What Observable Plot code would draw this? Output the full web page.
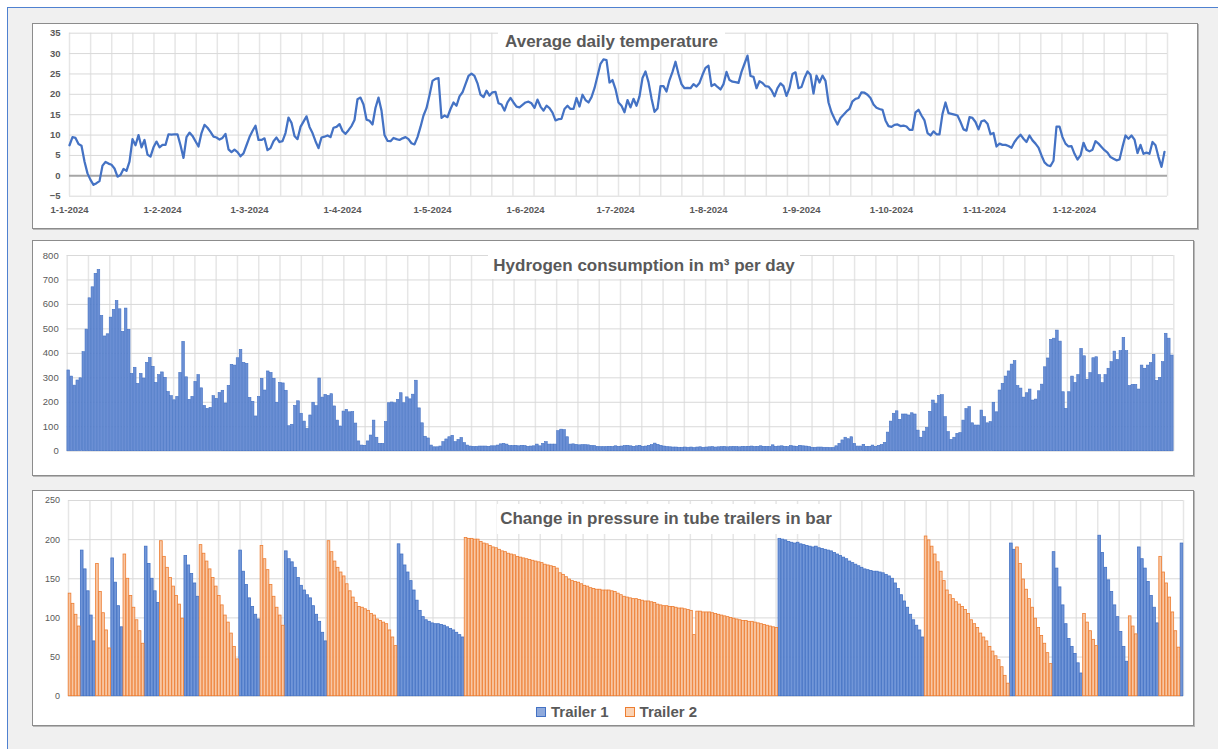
<!DOCTYPE html>
<html>
<head>
<meta charset="utf-8">
<script src="https://cdn.jsdelivr.net/npm/d3@7"></script>
<script src="https://cdn.jsdelivr.net/npm/@observablehq/plot@0.6"></script>
<style>
html,body{margin:0;padding:0;background:#fff;width:1218px;height:749px;overflow:hidden;font-family:"Liberation Sans",Arial,sans-serif;}
#frame{position:absolute;left:7px;top:7px;width:1240px;height:770px;border-left:1.5px solid #4f81d0;border-top:1.5px solid #4f81d0;background:#f0f0f0;}
.panel{position:absolute;background:#fff;border:1px solid #8c8c8c;box-shadow:1px 1px 0 #b8b8b8;box-sizing:border-box;}
.chart{position:absolute;}
.title{position:absolute;background:#fff;color:#595959;font-weight:bold;font-size:17px;display:flex;align-items:center;justify-content:center;white-space:nowrap;}
.legend{position:absolute;display:flex;align-items:center;color:#595959;font-weight:bold;font-size:15px;white-space:nowrap;}
.sw{display:inline-block;width:8px;height:8px;margin-right:5px;}
</style>
</head>
<body>
<div id="frame"></div>
<div class="panel" style="left:32px;top:23px;width:1166px;height:206px;"></div>
<div class="panel" style="left:32px;top:240px;width:1162px;height:236px;"></div>
<div class="panel" style="left:32px;top:490px;width:1162px;height:236px;"></div>
<div id="c1" class="chart" style="left:33px;top:24px;"></div>
<div id="c2" class="chart" style="left:33px;top:241px;"></div>
<div id="c3" class="chart" style="left:33px;top:491px;"></div>
<div class="title" style="left:498px;top:30px;width:227px;height:23px;">Average daily temperature</div>
<div class="title" style="left:488px;top:252px;width:312px;height:27px;">Hydrogen consumption in m³ per day</div>
<div class="title" style="left:497px;top:504px;width:338px;height:30px;">Change in pressure in tube trailers in bar</div>
<div class="legend" style="left:536px;top:703px;">
  <span class="sw" style="background:#8faadc;border:1px solid #4472c4;"></span><span>Trailer 1</span>
  <span class="sw" style="background:#fbd3b4;border:1px solid #ed7d31;margin-left:16px;"></span><span>Trailer 2</span>
</div>
<script>
// ---------- DATA ----------
// Average daily temperature (°C), one value per day from 1-1-2024
const temperature = [
7.5,9.5,9.3,7.8,7.4,3.5,0.6,-1.0,-2.2,-1.8,
-1.3,2.5,3.4,3.0,2.7,1.8,-0.2,0.2,1.7,1.2,
3.5,9.0,7.5,10.0,7.0,8.8,5.2,4.7,7.0,8.4,
7.0,7.6,7.6,10.2,10.1,10.2,10.2,7.5,4.4,9.5,
10.6,9.8,8.5,7.2,10.5,12.5,11.8,10.8,9.6,9.4,
8.9,9.3,10.3,6.5,5.8,6.4,5.8,4.8,5.5,7.5,
9.5,11.0,12.3,8.8,8.8,9.2,6.3,6.8,8.5,9.4,
8.3,8.5,10.5,14.3,13.0,9.8,9.0,12.0,13.3,14.6,
12.0,10.5,8.5,6.8,9.4,9.6,9.9,9.5,11.8,12.0,
12.7,11.0,10.3,11.2,12.2,13.7,18.8,19.2,17.5,13.8,
13.5,12.6,16.7,19.2,16.0,10.0,8.6,8.5,9.3,9.0,
8.8,9.2,9.5,9.0,8.0,7.7,9.5,12.0,14.8,16.6,
19.8,23.3,23.8,24.0,14.2,14.8,14.4,16.4,18.0,17.2,
19.5,20.5,22.5,24.5,25.1,24.5,22.7,19.9,19.3,20.9,
19.7,20.5,20.6,17.8,17.5,16.0,18.0,19.1,18.0,17.0,
16.8,17.4,18.0,18.2,17.8,16.7,18.7,17.0,16.0,17.2,
16.6,15.5,13.6,13.9,14.0,16.4,17.2,16.4,16.4,19.1,
17.0,19.9,18.6,18.0,19.3,21.5,24.5,27.5,28.6,28.4,
22.9,23.5,21.3,18.0,17.2,15.6,18.6,16.8,18.9,17.2,
19.5,24.0,25.6,23.0,19.0,15.7,16.5,22.0,22.0,20.7,
23.5,25.5,28.0,25.0,22.5,21.5,21.6,21.5,22.5,21.9,
22.8,24.8,26.5,27.0,22.0,22.5,21.8,21.2,22.5,25.5,
23.5,23.1,23.0,22.8,25.5,27.5,29.5,24.5,24.3,21.5,
23.2,22.8,22.0,21.9,21.0,19.5,21.5,22.7,22.0,19.6,
21.5,25.0,25.4,21.5,21.8,24.0,25.6,24.8,20.2,24.6,
22.9,24.6,23.3,18.0,15.6,14.0,12.6,14.2,15.0,15.8,
16.4,18.3,18.9,19.1,20.5,20.4,19.9,19.1,17.5,16.7,
16.4,16.2,13.6,12.2,12.0,12.5,12.6,12.2,12.3,12.1,
11.3,11.3,15.6,16.2,14.8,13.6,10.5,9.9,10.9,10.2,
10.2,15.2,18.0,15.4,15.2,15.0,14.8,13.2,11.4,11.1,
14.4,14.2,13.2,11.4,13.4,13.6,12.8,10.2,10.5,7.2,
7.9,7.6,7.6,7.3,6.9,8.3,9.3,10.1,9.1,8.3,
9.9,8.7,7.9,6.9,5.0,3.3,2.6,2.4,3.7,12.1,
12.1,9.5,7.9,7.2,7.3,5.4,4.0,5.0,8.1,6.4,
6.0,6.4,8.5,7.9,7.1,6.3,5.7,4.6,4.2,3.8,
4.0,7.1,9.9,9.1,9.9,8.9,5.6,7.6,5.4,5.7,
5.4,8.3,7.5,4.6,2.2,5.9
];

// Hydrogen consumption (m³ per day), one value per day
const consumption = [
330,305,268,289,298,405,497,625,670,725,
741,553,469,478,546,578,614,580,488,583,
496,316,341,275,316,297,361,381,345,279,
311,322,300,242,225,208,222,320,447,302,
210,222,283,311,257,185,173,177,225,214,
238,247,195,267,353,350,380,414,361,357,
218,202,142,222,296,248,326,320,296,198,
279,277,247,102,108,185,204,153,121,91,
146,198,184,297,219,230,226,233,183,125,
101,162,169,159,160,113,40,23,22,40,
64,125,55,30,30,119,196,199,196,210,
237,196,220,212,231,288,175,114,59,52,
23,16,16,19,37,48,57,63,37,46,
54,33,23,19,18,18,19,19,19,18,
20,20,23,28,30,27,21,21,22,20,
22,21,18,19,20,27,20,30,37,27,
27,27,82,88,86,57,27,28,26,24,
25,25,24,22,21,18,17,17,17,18,
17,20,18,19,21,22,20,18,20,22,
18,19,22,25,31,26,22,19,17,16,
15,15,14,14,15,14,15,13,15,16,
14,15,16,17,15,16,17,18,16,17,
18,17,16,18,17,18,19,17,18,20,
18,18,17,24,18,19,20,18,17,21,
19,18,22,20,19,17,
14,14,15,15,14,14,13,13,20,30,
44,55,49,57,30,19,19,26,18,18,
23,18,22,25,34,76,121,153,163,128,
150,150,146,155,150,84,55,80,95,161,
207,193,226,229,139,78,46,55,71,74,
125,172,180,114,105,105,166,139,114,119,
198,159,248,275,305,326,354,368,266,256,
219,237,252,207,211,245,272,343,379,455,
460,493,448,241,173,241,305,279,311,418,
388,292,319,380,384,311,278,311,337,364,
407,373,409,463,409,266,271,271,252,350,
337,350,360,394,287,300,364,480,460,391
];

// Tube trailer pressure (bar): consecutive runs of days on one trailer
const trailerNames = ["Trailer 1", "Trailer 2"];
const runTrailer = [2,1,2,1,2,1,2,1,2,1,2,1,2,1,2,1,2,1,2,1,2,1,2,1,2,1];
const runValues = [
[131,118,104,89],
[186,162,134,103,70],
[169,133,106,84,61],
[176,145,115,88],
[181,150,128,113,97,83,67],
[191,169,150,134,119],
[198,178,164,151,140,128,117,99],
[179,167,156,144,127],
[193,182,172,162,151,140,128,116,103,94,80,63,47],
[186,159,142,125,114,104,98],
[192,175,161,142,127,113,103,90],
[185,175,171,164,151,141,135,129,125,115,104,95,81,70],
[198,184,172,164,158,153,143,134,126,119,114,113,111,109,105,103,98,96,94,92,84,75,64],
[194,181,167,158,147,135,122,109,101,97,95,93,92,92,91,90,88,86,84,81,78,75],
[202,201,201,200,200,197,195,194,192,190,189,187,185,184,182,181,180,178,177,176,175,
 174,173,172,171,170,168,167,166,165,163,157,155,152,149,147,146,145,143,141,140,
 138,137,136,136,135,135,135,134,133,131,129,127,126,125,124,124,123,122,121,121,
 120,119,117,116,115,115,114,114,113,112,112,111,110,109,78,108,108,107,107,107,
 106,105,104,103,102,101,100,99,98,97,96,96,95,95,94,93,92,91,90,89,88,87],
[201,200,199,197,196,195,196,194,193,192,191,190,191,189,188,187,186,185,183,181,179,
 177,175,172,170,168,166,164,162,161,160,159,159,158,157,155,153,150,144,137,129,121,
 113,104,97,90,84,75],
[204,199,191,181,171,159,147,135,129,124,120,117,114,110,105,97,92,87,80,75,70,63,57,51,46,37,26,16],
[195,187],
[190,169,149,136,124,113,99,87,77,67,55,41],
[184,163,139,116,92,73,63,54,42,29],
[105,94,83,72,64],
[205,183,164,148,133,116,101,82,63,44],
[102,89,79],
[190,175,163,146,128,113,93],
[178,158,144,126,107,83,62],
[195]
];

// Axis tick values
const tempTicks = [-5,0,5,10,15,20,25,30,35];
const consTicks = [0,100,200,300,400,500,600,700,800];
const presTicks = [0,50,100,150,200,250];

// ---------- BUILD ----------
const start = Date.UTC(2024,0,1);
const DAY = 864e5;
const nDays = 366;
const tempRows = temperature.map((t,i) => ({date: new Date(start + i*DAY), t}));
const consRows = consumption.map((v,i) => ({day: i, v}));
const presRows = [];
{ let d = 0;
  runValues.forEach((vals, r) => vals.forEach(v => presRows.push({day: d++, trailer: trailerNames[runTrailer[r]-1], v}))); }

const monthStarts = d3.range(12).map(m => new Date(Date.UTC(2024,m,1)));
const gridFrac = d3.range(53).map(k => k*nDays/52);
const gridDates = gridFrac.map(f => new Date(start + f*DAY));
const fmt = d => `${d.getUTCDate()}-${d.getUTCMonth()+1}-${d.getUTCFullYear()}`;
const font = "'Liberation Sans', Arial, sans-serif";
const vGrid = "#e6e6e6", hGrid = "#d9d9d9";

// Panel 1: temperature
const p1 = Plot.plot({
  width: 1163, height: 203,
  marginLeft: 36, marginRight: 29, marginTop: 8.7, marginBottom: 31.3,
  style: {fontFamily: font, fontSize: "9.5px", color: "#595959", background: "transparent", overflow: "visible"},
  x: {type: "utc", domain: [new Date(start), new Date(start + nDays*DAY)]},
  y: {domain: [-5, 35]},
  marks: [
    Plot.ruleX(gridDates, {stroke: vGrid, strokeWidth: 1.5}),
    Plot.ruleY(tempTicks.filter(v => v !== 0), {stroke: hGrid, strokeWidth: 1}),
    Plot.ruleY([0], {stroke: "#a6a6a6", strokeWidth: 2}),
    Plot.lineY(tempRows, {x: "date", y: "t", stroke: "#4472c4", strokeWidth: 2.25, strokeLinejoin: "round"}),
    Plot.axisX({ticks: monthStarts, tickFormat: fmt, tickSize: 0, tickPadding: 10, fontWeight: "bold", label: null}),
    Plot.axisY({ticks: tempTicks, tickSize: 0, tickPadding: 9, fontWeight: "bold", label: null})
  ]
});
document.getElementById("c1").append(p1);

// Panel 2: hydrogen consumption
const p2 = Plot.plot({
  width: 1160, height: 234,
  marginLeft: 33.7, marginRight: 19.7, marginTop: 14, marginBottom: 24.3,
  style: {fontFamily: font, fontSize: "9.5px", color: "#595959", background: "transparent", overflow: "visible"},
  x: {type: "linear", domain: [0, nDays], axis: null},
  y: {domain: [0, 800]},
  marks: [
    Plot.ruleX(gridFrac, {stroke: vGrid, strokeWidth: 1.5}),
    Plot.ruleY(consTicks, {stroke: hGrid, strokeWidth: 1}),
    Plot.rectY(consRows, {x1: "day", x2: d => d.day + 1, y: "v", fill: "#6b8fd4", stroke: "#4472c4", strokeWidth: 0.6, insetLeft: 0.2, insetRight: 0.2}),
    Plot.axisY({ticks: consTicks, tickSize: 0, tickPadding: 8.5, label: null})
  ]
});
document.getElementById("c2").append(p2);

// Panel 3: pressure in tube trailers
const p3 = Plot.plot({
  width: 1160, height: 234,
  marginLeft: 35, marginRight: 10, marginTop: 9, marginBottom: 29.3,
  style: {fontFamily: font, fontSize: "9px", color: "#595959", background: "transparent", overflow: "visible"},
  x: {type: "linear", domain: [0, nDays], axis: null},
  y: {domain: [0, 250]},
  marks: [
    Plot.ruleX(gridFrac, {stroke: vGrid, strokeWidth: 1.5}),
    Plot.ruleY(presTicks, {stroke: hGrid, strokeWidth: 1}),
    Plot.rectY(presRows.filter(d => d.trailer === "Trailer 1"), {x1: "day", x2: d => d.day + 1, y: "v", fill: "#7196d8", stroke: "#4472c4", strokeWidth: 0.8, insetLeft: 0.2, insetRight: 0.2}),
    Plot.rectY(presRows.filter(d => d.trailer === "Trailer 2"), {x1: "day", x2: d => d.day + 1, y: "v", fill: "#f8c7a4", stroke: "#ed7d31", strokeWidth: 0.8, insetLeft: 0.2, insetRight: 0.2}),
    Plot.axisY({ticks: presTicks, tickSize: 0, tickPadding: 8.5, label: null})
  ]
});
document.getElementById("c3").append(p3);
</script>
</body>
</html>
